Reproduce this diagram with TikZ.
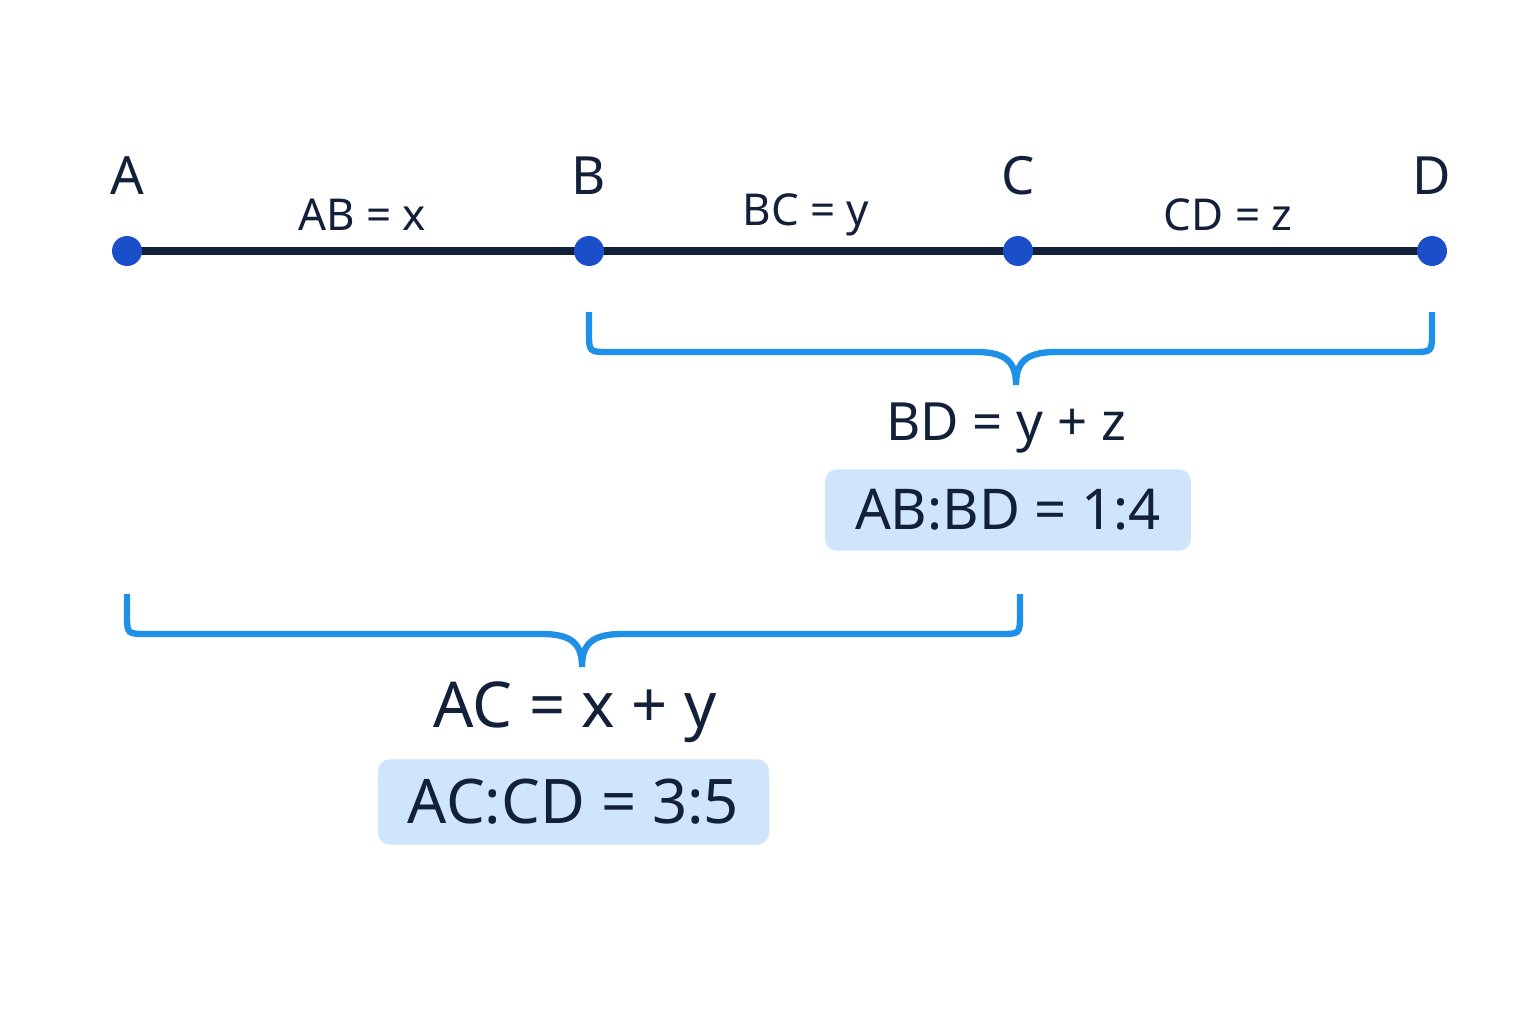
\documentclass[tikz,border=0pt]{standalone}
\usepackage{fontspec}
\setmainfont{Noto Sans}
\usetikzlibrary{positioning}
\definecolor{ink}{HTML}{12203A}
\definecolor{dotblue}{HTML}{1A4FC9}
\definecolor{brblue}{HTML}{1E90E8}
\definecolor{boxblue}{HTML}{CFE5FB}
\tikzset{
  dot/.style={circle, fill=dotblue, inner sep=0pt, minimum size=0.3cm},
  ptlabel/.style={font=\fontsize{15}{18}\selectfont, text=ink},
  seglabel/.style={font=\fontsize{12.5}{15}\selectfont, text=ink},
  brace/.style={brblue, line width=1.8pt},
  ratio/.style={fill=boxblue, rounded corners=0.12cm, text=ink, inner xsep=0.3cm, inner ysep=0.2cm}
}
\newcommand\bracepath[4]{% x1, x2, ytop, xmid
  \draw[brace] (#1,#3) -- (#1,#3-0.2) .. controls (#1,#3-0.4) .. (#1+0.2,#3-0.4)
    -- (#4-0.4,#3-0.4) .. controls (#4-0.1,#3-0.4) and (#4,#3-0.5) .. (#4,#3-0.73)
    .. controls (#4,#3-0.5) and (#4+0.1,#3-0.4) .. (#4+0.4,#3-0.4)
    -- (#2-0.2,#3-0.4) .. controls (#2,#3-0.4) .. (#2,#3-0.2) -- (#2,#3);
}
\begin{document}
\begin{tikzpicture}
  \fill[white] (0,0) rectangle (15.36,10.24);

  % points
  \coordinate (pA) at (1.27,7.73);
  \coordinate (pB) at (5.89,7.73);
  \coordinate (pC) at (10.18,7.73);
  \coordinate (pD) at (14.32,7.73);
  \draw[ink, line width=2pt] (pA) -- (pD);
  \foreach \p/\t in {pA/A, pB/B, pC/C, pD/D}{
    \node[dot] (d\t) at (\p) {};
    \node[ptlabel, above=0.28cm of d\t] (l\t) {\t};
  }

  % segments
  \node[seglabel] (ab) at (3.62,8.09) {AB = x};
  \node[seglabel] (bc) at (8.06,8.09) {BC = y};
  \node[seglabel] (cd) at (12.28,8.09) {CD = z};

  % braces
  \bracepath{5.89}{14.32}{7.12}{10.16}
  \bracepath{1.27}{10.20}{4.30}{5.82}

  \node[ptlabel] (bd) at (10.06,5.96) {BD = y + z};
  \node[ratio, font=\fontsize{16}{19}\selectfont, minimum width=3.26cm, minimum height=0.75cm] (r1) at (10.08,5.14) {AB:BD = 1:4};

  \node[ptlabel, font=\fontsize{18}{21}\selectfont] (ac) at (5.75,3.12) {AC = x + y};
  \node[ratio, font=\fontsize{17.5}{21}\selectfont, minimum width=3.47cm, minimum height=0.77cm] (r2) at (5.735,2.22) {AC:CD = 3:5};
\end{tikzpicture}
\end{document}
